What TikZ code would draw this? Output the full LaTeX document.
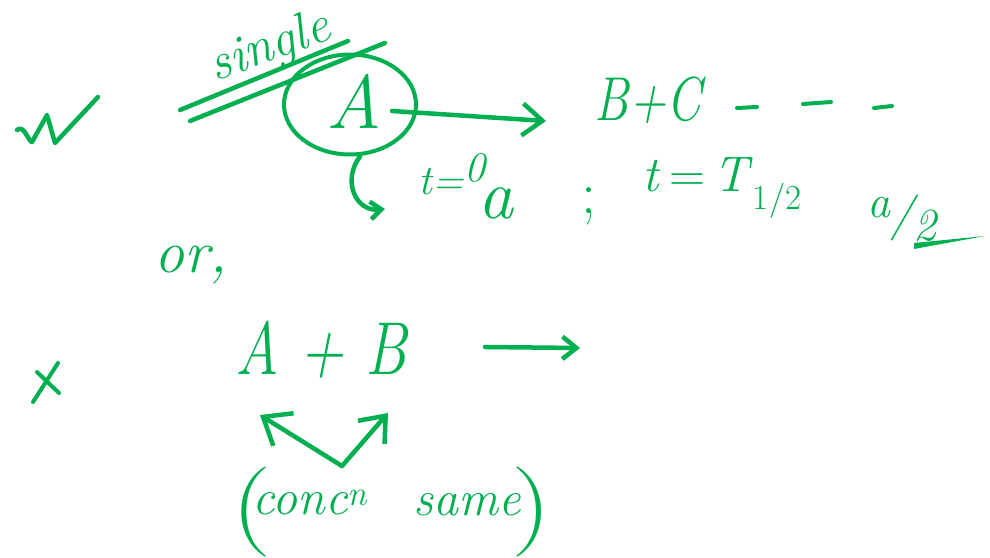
\documentclass[tikz,border=0pt]{standalone}
\usetikzlibrary{arrows.meta,shapes.geometric}
\definecolor{ink}{RGB}{0,176,80}
\newcommand\hwsize[1]{\fontsize{#1}{#1}\selectfont}
\begin{document}
\begin{tikzpicture}[x=1pt,y=-1pt,
  stroke/.style={draw=ink, line width=4.5pt, line cap=round, line join=round},
  hw/.style={text=ink, inner sep=0pt, outer sep=0pt},
  barb/.style={-{Straight Barb[length=#1, width=1.6*#1]}}]
\useasboundingbox (0,0) rectangle (990,557);
% check mark
\draw[stroke] (17,130) .. controls (24,124) and (28,141) .. (32,142) -- (47,115) -- (55,143) -- (98,97);
% "single" with two strokes
\node[hw, rotate=20, font=\hwsize{52}\itshape] (single) at (270,48) {single};
\draw[stroke] (180,110) -- (348,41);
\draw[stroke] (190,121) -- (385,43);
% circled A
\node[hw, font=\hwsize{76}\itshape] (A) at (354,101) {A};
\node[draw=ink, line width=4pt, ellipse, minimum width=132pt, minimum height=100pt] (circ) at (350,104.5) {};
\coordinate (aStart) at (392,111);
\coordinate (aEnd) at (546,121);
\draw[stroke, barb=20pt] (aStart) -- (aEnd);
% B+C - - -
\node[hw, xscale=0.8, font=\hwsize{62}\itshape] (BC) at (648,100) {B+C};
\coordinate (d1a) at (737,108); \coordinate (d1b) at (757,107);
\coordinate (d2a) at (803,104); \coordinate (d2b) at (831,102);
\coordinate (d3a) at (874,108); \coordinate (d3b) at (892,106);
\draw[stroke, line width=4pt] (d1a) -- (d1b);
\draw[stroke, line width=4pt] (d2a) -- (d2b);
\draw[stroke, line width=4pt] (d3a) -- (d3b);
% hooked arrow under the circle
\coordinate (hEnd) at (385,209);
\draw[stroke, barb=11pt] (circ.south) ++(10,0) .. controls (342,180) and (355,212) .. (hEnd);
% t=0  a ; t=T1/2  a/2
\node[hw, font=\hwsize{42}\itshape] (t0) at (452,174) {t=\raisebox{0.3em}{0}};
\node[hw, font=\hwsize{70}\itshape] (a) at (496,203) {a};
\node[hw, font=\hwsize{60}] (semi) at (589,206) {;};
\node[hw, font=\hwsize{50}] (tT) at (722,188) {\textit{t}\,=\,\textit{T}\textsubscript{\raisebox{-0.1em}{1/2}}};
\node[hw, font=\hwsize{46}\itshape] (a2) at (902,218) {a\raisebox{-0.25em}{/\raisebox{-0.25em}{2}}};
\coordinate (tailEnd) at (985,236);
\fill[ink] (914,249) -- (tailEnd) -- (914,243) -- cycle;
% or,
\node[hw, font=\hwsize{60}\itshape] (or) at (191,265) {or,};
% cross
\draw[stroke, line width=4pt] (33,402) -- (58,363);
\draw[stroke, line width=4pt] (37,372) -- (59,393);
% A + B  ->
\node[hw, xscale=0.8, font=\hwsize{75}\itshape] (AB) at (321,350) {A + B};
\coordinate (r1) at (485,347);
\coordinate (r2) at (580,348);
\draw[stroke, barb=14pt] (r1) -- (r2);
% two arrows from one point
\coordinate (apex) at (342,466);
\coordinate (vl) at (260,415);
\coordinate (vr) at (388,413);
\draw[stroke, barb=24pt] (apex) -- (vl);
\draw[stroke, barb=22pt] (apex) -- (vr);
% (conc^n same)
\node[hw, xscale=1.9, yscale=1.5, font=\hwsize{60}] (lp) at (252,512) {(};
\node[hw, font=\hwsize{50}\itshape] (conc) at (310,503) {conc\textsuperscript{n}};
\node[hw, font=\hwsize{50}\itshape] (same) at (467,505) {same};
\node[hw, xscale=1.9, yscale=1.5, font=\hwsize{60}] (rp) at (532,512) {)};
\end{tikzpicture}
\end{document}
